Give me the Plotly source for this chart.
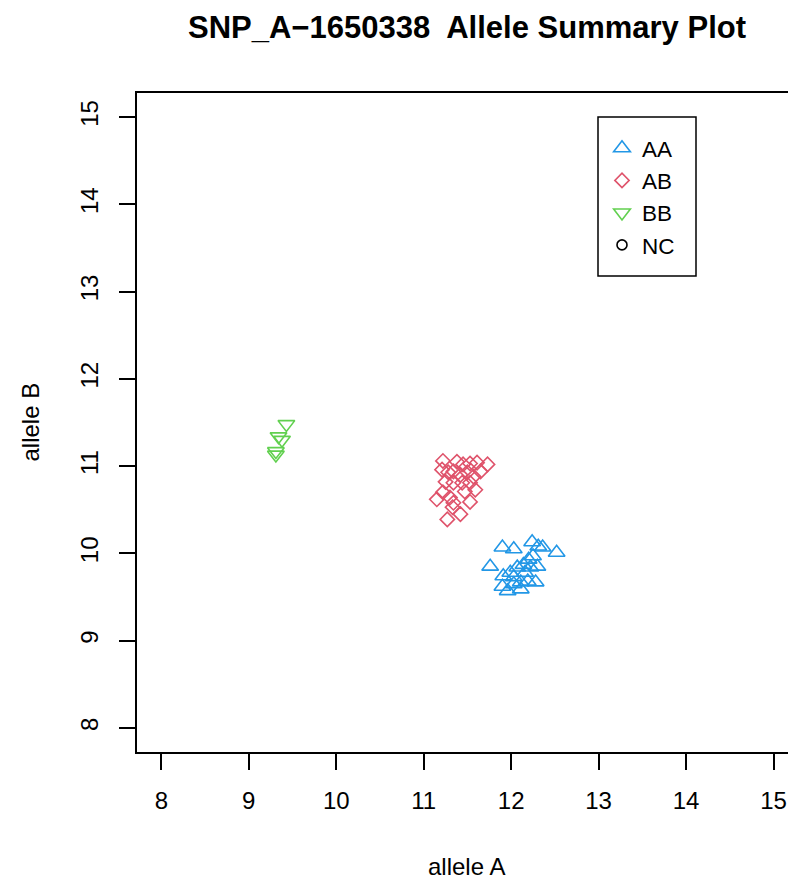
import plotly.graph_objects as go

# ---- data ----
aa_x = [11.90, 12.03, 12.24, 12.31, 12.36, 12.52, 11.76, 11.91, 11.99, 12.07, 12.14, 12.20,
        12.25, 12.30, 11.90, 11.96, 12.03, 12.11, 12.19, 12.28, 12.11, 12.03, 12.16, 12.22]
aa_y = [10.07, 10.05, 10.13, 10.08, 10.07, 10.01, 9.85, 9.74, 9.78, 9.84, 9.87, 9.93,
        9.97, 9.85, 9.62, 9.57, 9.65, 9.67, 9.68, 9.67, 9.59, 9.73, 9.78, 9.84]

ab_x = [11.22, 11.38, 11.45, 11.53, 11.61, 11.73, 11.21, 11.28, 11.34, 11.42, 11.50, 11.57,
        11.65, 11.25, 11.34, 11.44, 11.53, 11.59, 11.15, 11.22, 11.30, 11.34, 11.33, 11.42,
        11.27, 11.53, 11.47]
ab_y = [11.06, 11.05, 11.02, 11.03, 11.04, 11.02, 10.96, 10.93, 10.94, 10.90, 10.93, 10.88,
        10.94, 10.82, 10.81, 10.81, 10.81, 10.73, 10.62, 10.70, 10.64, 10.58, 10.53, 10.45,
        10.39, 10.59, 10.71]

bb_x = [9.43, 9.34, 9.38, 9.31, 9.31]
bb_y = [11.48, 11.34, 11.30, 11.17, 11.13]

nc_x = []
nc_y = []

tick_vals = [8, 9, 10, 11, 12, 13, 14, 15]
x_range = [7.722, 15.257]
y_range = [7.725, 15.275]

FONT = "Liberation Sans, Arial, sans-serif"

# page has an 8px body margin; figure is sized so it ends at the window edge
OFF = 8
W, H = 796 - OFF, 881 - OFF
L, T, B = 137 - OFF, 93 - OFF, 881 - 752

fig = go.Figure()
fig.add_trace(go.Scatter(x=aa_x, y=aa_y, mode="markers", name="AA",
                         marker=dict(symbol="triangle-up-open", size=14.5, color="#2297E6",
                                     line=dict(width=1.6, color="#2297E6"))))
fig.add_trace(go.Scatter(x=ab_x, y=ab_y, mode="markers", name="AB",
                         marker=dict(symbol="diamond-open", size=11, color="#DF536B",
                                     line=dict(width=1.6, color="#DF536B"))))
fig.add_trace(go.Scatter(x=bb_x, y=bb_y, mode="markers", name="BB",
                         marker=dict(symbol="triangle-down-open", size=14.5, color="#61D04F",
                                     line=dict(width=1.6, color="#61D04F"))))
fig.add_trace(go.Scatter(x=nc_x if nc_x else [None], y=nc_y if nc_y else [None],
                         mode="markers", name="NC",
                         marker=dict(symbol="circle-open", size=10, color="black",
                                     line=dict(width=1.6, color="black"))))

axis_common = dict(showgrid=False, zeroline=False, showline=True, linecolor="black",
                   linewidth=1.5, ticks="outside", ticklen=16, tickwidth=1.5,
                   tickcolor="black", tickvals=tick_vals,
                   tickfont=dict(family=FONT, size=24, color="black"))

PH = 752 - 93  # plot height in px
def py(page_y):
    return (752 - page_y) / PH

def px(page_x):
    return (page_x - 137) / 659

fig.update_layout(
    width=W, height=H,
    margin=dict(l=L, r=0, t=T, b=B, pad=0),
    paper_bgcolor="white", plot_bgcolor="white",
    font=dict(family=FONT, color="black"),
    title=dict(text="<b>SNP_A\u22121650338  Allele Summary Plot</b>",
               x=(467 - OFF) / W, xanchor="center", xref="container",
               y=1 - (27 - OFF) / H, yanchor="middle", yref="container",
               font=dict(family=FONT, size=31, color="black")),
    xaxis=dict(range=x_range, mirror=True, ticklabelstandoff=10, **axis_common),
    yaxis=dict(range=y_range, mirror=False, tickangle=-90, ticklabelstandoff=12,
               **axis_common),
    showlegend=True,
    legend=dict(x=px(602), y=py(127), xanchor="left", yanchor="top",
                borderwidth=0, bgcolor="rgba(0,0,0,0)",
                font=dict(family=FONT, size=22.5, color="black"),
                tracegroupgap=0),
    shapes=[dict(type="rect", xref="paper", yref="paper",
                 x0=px(598), x1=px(696), y0=py(276), y1=py(117),
                 line=dict(color="black", width=1.5), fillcolor="rgba(0,0,0,0)",
                 layer="above")],
    annotations=[
        dict(text="allele A", xref="paper", yref="paper", x=0.5, y=py(866),
             xanchor="center", yanchor="middle", showarrow=False,
             font=dict(family=FONT, size=24, color="black")),
        dict(text="allele B", xref="paper", yref="paper", x=px(30), y=0.5,
             xanchor="center", yanchor="middle", showarrow=False, textangle=-90,
             font=dict(family=FONT, size=24, color="black")),
    ],
)

fig.write_html("out.html")
